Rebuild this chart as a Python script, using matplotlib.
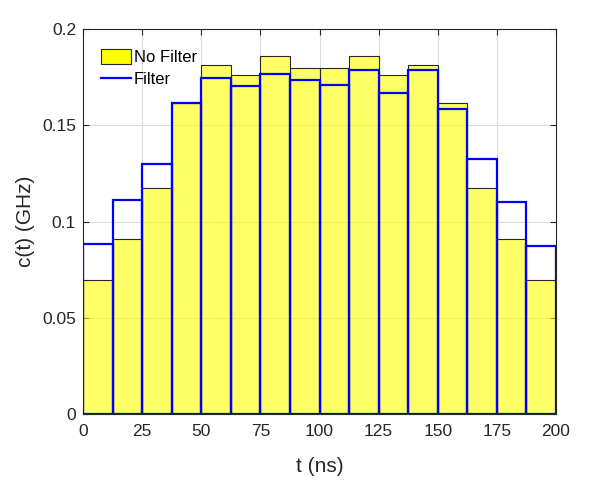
import matplotlib
matplotlib.use("Agg")
import matplotlib.pyplot as plt
import numpy as np
from matplotlib.patches import Patch
from matplotlib.lines import Line2D

plt.rcParams['font.family'] = ['Liberation Sans', 'DejaVu Sans']

bin_edges = np.arange(0, 200.1, 12.5)
no_filter = [0.0695, 0.0908, 0.1172, 0.1617, 0.1811, 0.1759, 0.1858, 0.1796,
             0.1796, 0.1858, 0.1759, 0.1811, 0.1614, 0.1172, 0.0908, 0.0695]
filt = [0.0883, 0.1112, 0.1299, 0.1617, 0.1747, 0.1706, 0.1768, 0.1737,
        0.1711, 0.1789, 0.1669, 0.1789, 0.1586, 0.1326, 0.1103, 0.0874]
xticks = [0, 25, 50, 75, 100, 125, 150, 175, 200]
yticks = [0, 0.05, 0.1, 0.15, 0.2]
ytick_labels = ["0", "0.05", "0.1", "0.15", "0.2"]

fig = plt.figure(figsize=(5.91, 4.83), dpi=100)
ax = fig.add_axes([83/591, 1-414/483, (556-83)/591, (414-29)/483])

left = bin_edges[:-1]
width = np.diff(bin_edges)
ax.bar(left, no_filter, width=width, align='edge', color='#FFFF00', alpha=0.6,
       edgecolor='none', zorder=2)
ax.bar(left, no_filter, width=width, align='edge', facecolor='none',
       edgecolor='#262626', linewidth=0.8, zorder=3)
ax.bar(left, filt, width=width, align='edge', facecolor='none',
       edgecolor='#0000FF', linewidth=1.6, zorder=4)

ax.set_xlim(0, 200)
ax.set_ylim(0, 0.2)
ax.set_xticks(xticks)
ax.set_yticks(yticks)
ax.set_yticklabels(ytick_labels)
ax.grid(True, color='#DBDBDB', linewidth=0.8, zorder=0)
ax.set_axisbelow(True)
ax.tick_params(direction='in', top=True, right=True, labelsize=12.5,
               colors='#262626', length=4, width=0.8)
ax.tick_params(axis='x', pad=7)
ax.tick_params(axis='y', pad=5)
for s in ax.spines.values():
    s.set_color('#262626')
    s.set_linewidth(0.8)
    s.set_zorder(5)

ax.set_xlabel('t (ns)', fontsize=15, color='#262626', labelpad=13)
ax.set_ylabel('c(t) (GHz)', fontsize=15, color='#262626', labelpad=5)

handles = [Patch(facecolor='#FFFF00', edgecolor='#262626', linewidth=0.8),
           Line2D([0], [0], color='#0000FF', linewidth=1.6)]
ax.legend(handles, ['No Filter', 'Filter'], loc='upper left', frameon=False,
          fontsize=12, handlelength=1.8, handleheight=1.0, handletextpad=0.15,
          bbox_to_anchor=(0.0, 0.995), borderaxespad=0.7, labelspacing=0.35)

fig.savefig('out.png', dpi=100)
